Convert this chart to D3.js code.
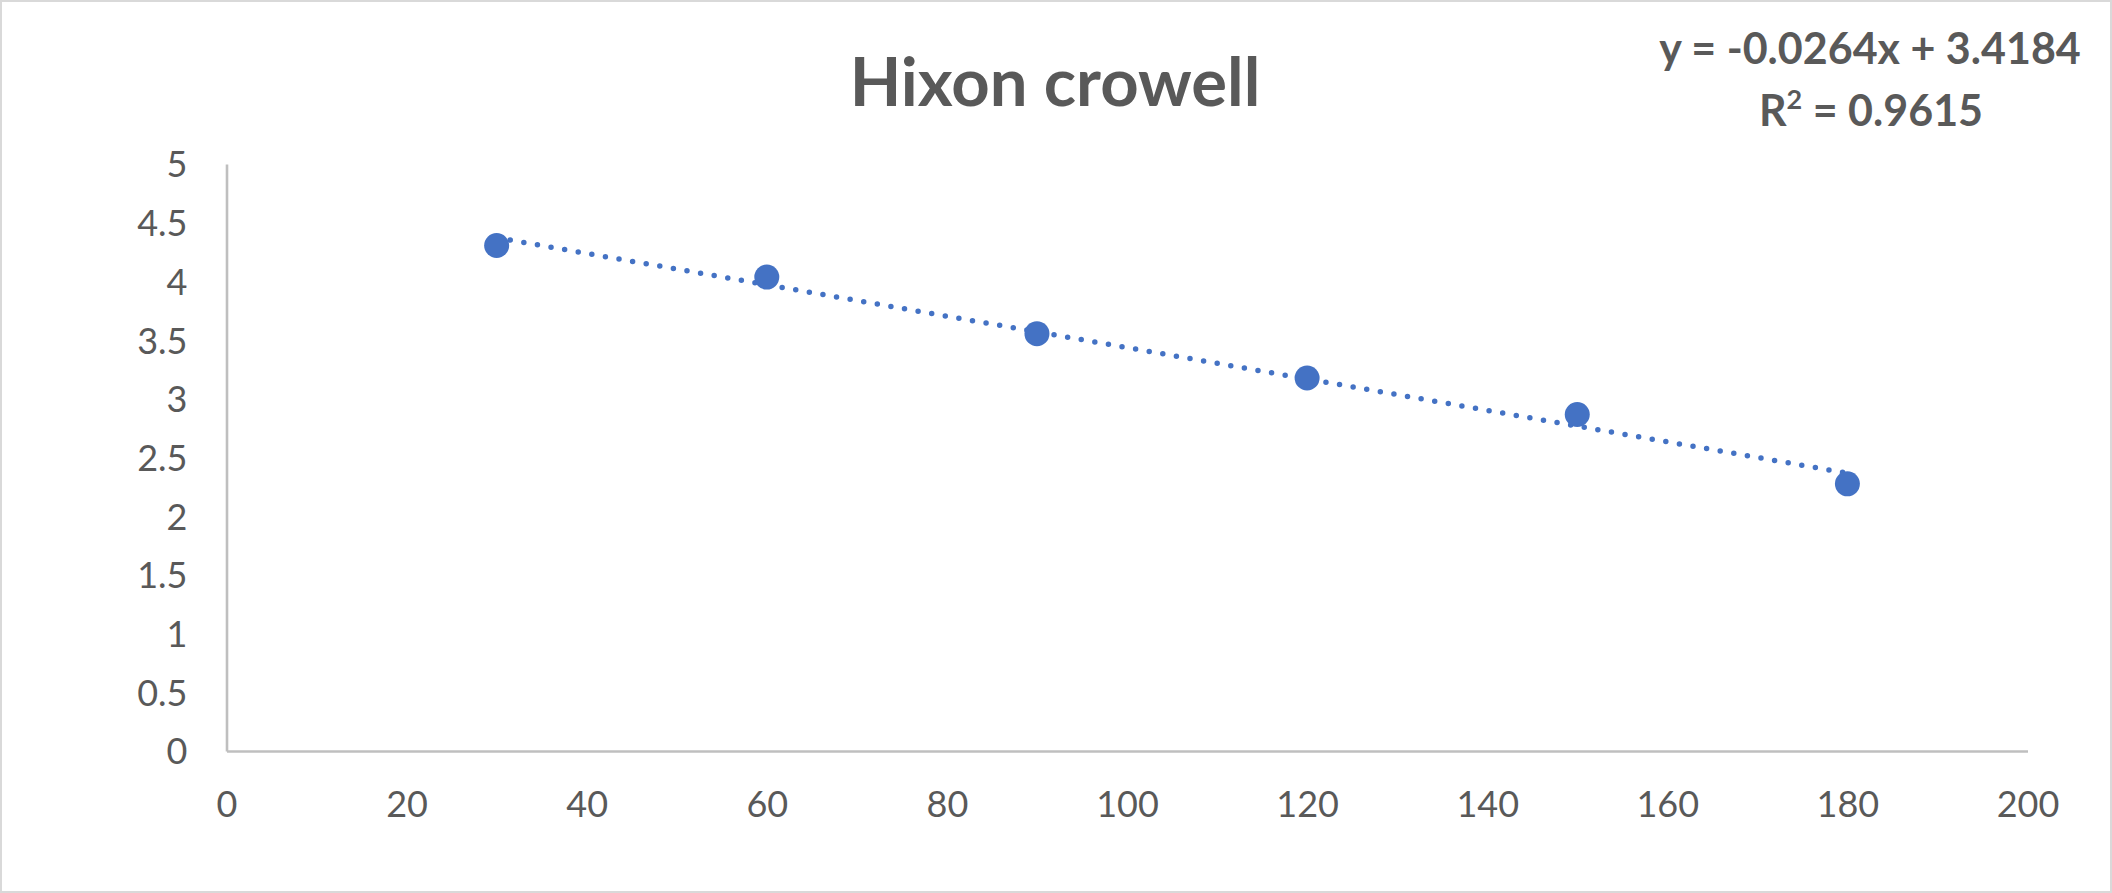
<!DOCTYPE html>
<html>
<head>
<meta charset="utf-8">
<script src="https://cdn.jsdelivr.net/npm/d3@7"></script>
<style>
  html, body { margin: 0; padding: 0; background: #fff; }
  svg { display: block; }
</style>
</head>
<body>
<script>
const title = "Hixon crowell";
const xValues = [30, 60, 90, 120, 150, 180];
const yValues = [4.306, 4.037, 3.555, 3.177, 2.866, 2.276];
const xTicks = [0, 20, 40, 60, 80, 100, 120, 140, 160, 180, 200];
const yTicks = [0, 0.5, 1, 1.5, 2, 2.5, 3, 3.5, 4, 4.5, 5];
const equationText = "y = -0.0264x + 3.4184";
const r2Text = "= 0.9615";

const W = 2112, H = 893;
const margin = { left: 226.5, right: W - 2027.5, top: 164, bottom: H - 751 };
const fontFamily = "Lato, 'Open Sans', sans-serif";
const blue = "#4472C4";
const textColor = "#595959";
const axisColor = "#BFBFBF";

const svg = d3.select("body").append("svg").attr("width", W).attr("height", H);

// chart border
svg.append("rect")
  .attr("x", 1).attr("y", 1).attr("width", W - 2).attr("height", H - 2)
  .attr("fill", "#fff").attr("stroke", "#D9D9D9").attr("stroke-width", 2);

const x = d3.scaleLinear().domain([0, 200]).range([margin.left, W - margin.right]);
const y = d3.scaleLinear().domain([0, 5]).range([H - margin.bottom, margin.top]);

// axes
const yAxis = svg.append("g")
  .attr("transform", `translate(${margin.left},0)`)
  .call(d3.axisLeft(y).tickValues(yTicks).tickSize(0).tickSizeOuter(0).tickPadding(39)
    .tickFormat(d => String(d)));
const xAxis = svg.append("g")
  .attr("transform", `translate(0,${H - margin.bottom})`)
  .call(d3.axisBottom(x).tickValues(xTicks).tickSize(0).tickSizeOuter(0)
    .tickFormat(d => String(d)));

[yAxis, xAxis].forEach(g => {
  g.select(".domain").attr("stroke", axisColor).attr("stroke-width", 2.6);
  g.selectAll("text").attr("fill", textColor).style("font-family", fontFamily).style("font-size", "36px");
});
yAxis.selectAll("text").attr("dy", "0.36em");
xAxis.selectAll("text").attr("y", 53).attr("dy", "0.36em");

// trendline (least-squares fit of the data)
const n = xValues.length;
const mx = d3.mean(xValues), my = d3.mean(yValues);
let sxy = 0, sxx = 0;
for (let i = 0; i < n; i++) {
  sxy += (xValues[i] - mx) * (yValues[i] - my);
  sxx += (xValues[i] - mx) ** 2;
}
const slope = sxy / sxx, intercept = my - slope * mx;
const x0 = d3.min(xValues), x1 = d3.max(xValues);
svg.append("path")
  .datum([[x0, intercept + slope * x0], [x1, intercept + slope * x1]])
  .attr("d", d3.line().x(d => x(d[0])).y(d => y(d[1])))
  .attr("fill", "none")
  .attr("stroke", blue)
  .attr("stroke-width", 5.5)
  .attr("stroke-linecap", "round")
  .attr("stroke-dasharray", "0 13.8");

// points
svg.append("g").selectAll("circle")
  .data(xValues.map((v, i) => [v, yValues[i]]))
  .join("circle")
  .attr("cx", d => x(d[0]))
  .attr("cy", d => y(d[1]))
  .attr("r", 12.5)
  .attr("fill", blue);

// title
svg.append("text")
  .attr("x", 1055).attr("y", 106)
  .attr("text-anchor", "middle")
  .attr("fill", textColor)
  .style("font-family", fontFamily)
  .style("font-weight", "bold")
  .style("font-size", "67px")
  .text(title);

// equation label
const eq = svg.append("g")
  .attr("fill", textColor)
  .style("font-family", fontFamily)
  .style("font-weight", "bold")
  .style("font-size", "43px");
eq.append("text").attr("x", 1870).attr("y", 64).attr("text-anchor", "middle").text(equationText);
const r2 = eq.append("text").attr("x", 1871).attr("y", 126).attr("text-anchor", "middle");
r2.append("tspan").text("R");
r2.append("tspan").attr("dy", -17).style("font-size", "27px").text("2");
r2.append("tspan").attr("dy", 17).text(" " + r2Text);
</script>
</body>
</html>
